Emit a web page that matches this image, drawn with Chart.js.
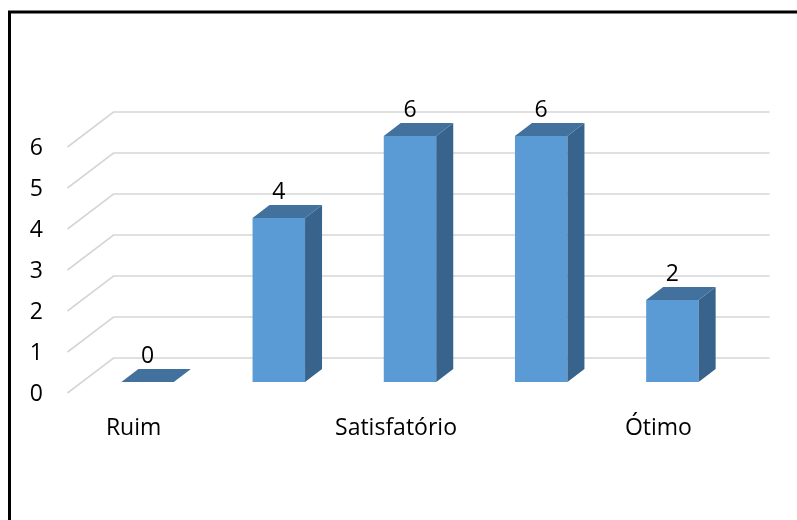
<!DOCTYPE html>
<html>
<head>
<meta charset="utf-8">
<script src="https://cdn.jsdelivr.net/npm/chart.js@4"></script>
<style>
  html, body { margin: 0; padding: 0; background: #fff; }
  #wrap { width: 797px; height: 520px; position: relative; }
</style>
</head>
<body>
<div id="wrap"><canvas id="c" width="797" height="520"></canvas></div>
<script>
// Data
const categories = ['Ruim', '', 'Satisfatório', '', 'Ótimo'];
const values = [0, 4, 6, 6, 2];
const yTicks = [0, 1, 2, 3, 4, 5, 6];

const FONT = '"Open Sans", "Noto Sans", sans-serif';
const FONT_SIZE = 23;

// 3D geometry (pixels)
const WALL_BACK = { dx: 31.5, dy: -24 };   // from bar plane to back wall
const WALL_FRONT = { dx: -14.5, dy: 11 };  // from bar plane to floor front
const BAR_DEPTH = { dx: 17, dy: -13 };

const frame3d = {
  id: 'frame3d',
  beforeDraw(chart) {
    const ctx = chart.ctx;
    ctx.save();
    ctx.fillStyle = '#fff';
    ctx.fillRect(0, 0, chart.width, chart.height);
    ctx.strokeStyle = '#000';
    ctx.lineWidth = 3;
    ctx.strokeRect(9.5, 12, 900, 600);
    ctx.restore();
  },
  beforeDatasetsDraw(chart) {
    const ctx = chart.ctx;
    const ys = chart.scales.y;
    const area = chart.chartArea;
    ctx.save();
    ctx.strokeStyle = '#d6d6d6';
    ctx.lineWidth = 1.6;
    yTicks.forEach(v => {
      const py = ys.getPixelForValue(v);
      const bx = area.left + WALL_BACK.dx;
      const by = py + WALL_BACK.dy;
      ctx.beginPath();
      ctx.moveTo(area.left + WALL_FRONT.dx, py + WALL_FRONT.dy);
      ctx.lineTo(bx, by);
      ctx.lineTo(area.right + WALL_BACK.dx, by);
      ctx.stroke();
    });
    ctx.restore();
  },
  afterDatasetsDraw(chart) {
    const ctx = chart.ctx;
    const meta = chart.getDatasetMeta(0);
    ctx.save();
    meta.data.forEach((bar, i) => {
      const p = bar.getProps(['x', 'y', 'base', 'width'], true);
      const l = p.x - p.width / 2, r = p.x + p.width / 2;
      const top = p.y, bot = p.base;
      // side face
      ctx.fillStyle = '#38638c';
      ctx.beginPath();
      ctx.moveTo(r, bot);
      ctx.lineTo(r + BAR_DEPTH.dx, bot + BAR_DEPTH.dy);
      ctx.lineTo(r + BAR_DEPTH.dx, top + BAR_DEPTH.dy);
      ctx.lineTo(r, top);
      ctx.closePath();
      ctx.fill();
      // top face
      ctx.fillStyle = '#41719c';
      ctx.beginPath();
      ctx.moveTo(l, top);
      ctx.lineTo(r, top);
      ctx.lineTo(r + BAR_DEPTH.dx, top + BAR_DEPTH.dy);
      ctx.lineTo(l + BAR_DEPTH.dx, top + BAR_DEPTH.dy);
      ctx.closePath();
      ctx.fill();
      // value label
      ctx.fillStyle = '#000';
      ctx.font = FONT_SIZE + 'px ' + FONT;
      ctx.textAlign = 'center';
      ctx.textBaseline = 'middle';
      ctx.fillText(String(values[i]), p.x, top - 25.5);
    });
    ctx.restore();
  }
};

new Chart(document.getElementById('c'), {
  type: 'bar',
  data: {
    labels: categories,
    datasets: [{
      data: values,
      backgroundColor: '#5b9bd5',
      borderWidth: 0,
      categoryPercentage: 1,
      barPercentage: 0.4
    }]
  },
  options: {
    responsive: false,
    animation: false,
    events: [],
    layout: { padding: { left: 10, right: 59, top: 136, bottom: 20 } },
    plugins: { legend: { display: false }, tooltip: { enabled: false }, title: { display: false } },
    scales: {
      x: {
        grid: { display: false, drawTicks: false },
        border: { display: false },
        ticks: {
          autoSkip: false,
          maxRotation: 0,
          color: '#000',
          font: { family: FONT, size: FONT_SIZE },
          padding: 33,
          labelOffset: -14
        },
        afterFit(scale) { scale.height = 118; }
      },
      y: {
        min: 0,
        max: 6,
        grid: { display: false, drawTicks: false },
        border: { display: false },
        ticks: {
          stepSize: 1,
          color: '#000',
          font: { family: FONT, size: FONT_SIZE },
          padding: 39,
          labelOffset: 12
        },
        afterFit(scale) { scale.width = 72; }
      }
    }
  },
  plugins: [frame3d]
});
</script>
</body>
</html>
